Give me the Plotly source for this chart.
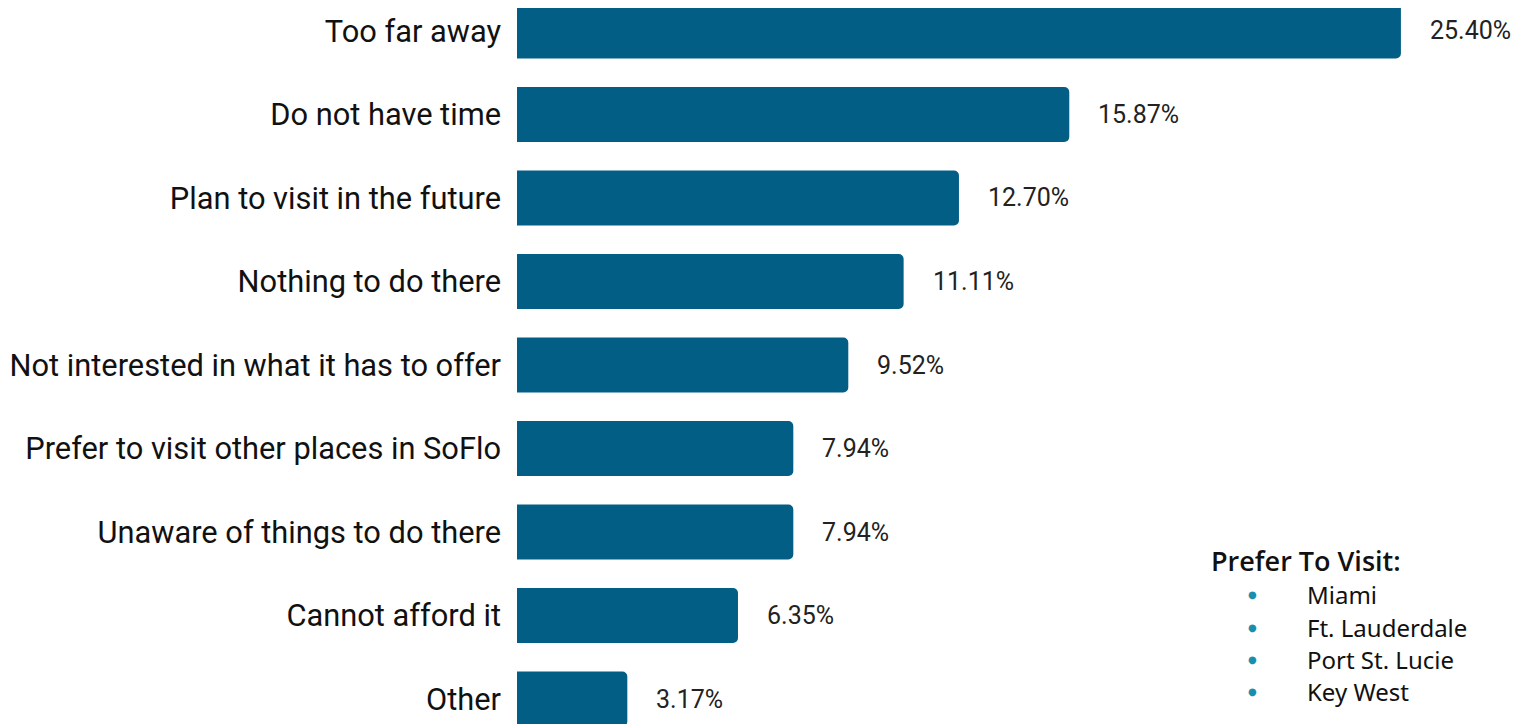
import plotly.graph_objects as go

categories = [
    "Too far away",
    "Do not have time",
    "Plan to visit in the future",
    "Nothing to do there",
    "Not interested in what it has to offer",
    "Prefer to visit other places in SoFlo",
    "Unaware of things to do there",
    "Cannot afford it",
    "Other",
]
values = [25.40, 15.87, 12.70, 11.11, 9.52, 7.94, 7.94, 6.35, 3.17]
value_labels = ["25.40%", "15.87%", "12.70%", "11.11%", "9.52%", "7.94%", "7.94%", "6.35%", "3.17%"]

legend_title = "Prefer To Visit:"
legend_items = ["Miami", "Ft. Lauderdale", "Port St. Lucie", "Key West"]

BAR_COLOR = "#025E85"
BULLET_COLOR = "#1A8FAD"

# page has an 8px body margin; figure sized so it ends at the window edge
OFF = 8
FIG_W, FIG_H = 1519 - OFF, 724 - OFF
L = 517 - OFF

fig = go.Figure()
fig.add_trace(go.Bar(
    x=values,
    y=categories,
    orientation="h",
    marker=dict(color=BAR_COLOR, line=dict(width=0)),
    width=0.66,
    hoverinfo="skip",
))

for v, c, t in zip(values, categories, value_labels):
    fig.add_annotation(
        x=v, y=c, xref="x", yref="y", text=t, showarrow=False,
        xanchor="left", yanchor="middle", xshift=27,
        font=dict(family="Roboto", size=25, color="#222222"),
    )

fig.update_layout(
    width=FIG_W, height=FIG_H,
    margin=dict(l=L, r=0, t=0, b=0, pad=0),
    plot_bgcolor="white", paper_bgcolor="white",
    barcornerradius=5,
    showlegend=False,
    xaxis=dict(range=[0, (FIG_W - L) / 34.8], visible=False, fixedrange=True),
    yaxis=dict(
        type="category",
        range=[8.299, -0.275],
        showgrid=False, zeroline=False, showline=False,
        ticks="", ticklabelstandoff=15,
        tickfont=dict(family="Roboto", size=30.8, color="#111111"),
    ),
)

W_PLOT = FIG_W - L


def px_to_paper(px, py):
    return (px - OFF - L) / W_PLOT, 1 - (py - OFF) / FIG_H


tx, ty = px_to_paper(1209, 560)
fig.add_annotation(
    x=tx, y=ty, xref="paper", yref="paper", text=legend_title,
    showarrow=False, xanchor="left", yanchor="middle",
    font=dict(family="Open Sans", size=27, color="#111111", weight=600),
)
item_y = [594, 627, 659, 691]
for name, py in zip(legend_items, item_y):
    bx, by = px_to_paper(1252, py)
    fig.add_annotation(
        x=bx, y=by, xref="paper", yref="paper", text="●", showarrow=False,
        xanchor="center", yanchor="middle",
        font=dict(family="DejaVu Sans", size=10, color=BULLET_COLOR),
    )
    lx, ly = px_to_paper(1305, py)
    fig.add_annotation(
        x=lx, y=ly, xref="paper", yref="paper", text=name, showarrow=False,
        xanchor="left", yanchor="middle",
        font=dict(family="Noto Sans", size=24, color="#111111"),
    )

fig.write_html("out.html")
